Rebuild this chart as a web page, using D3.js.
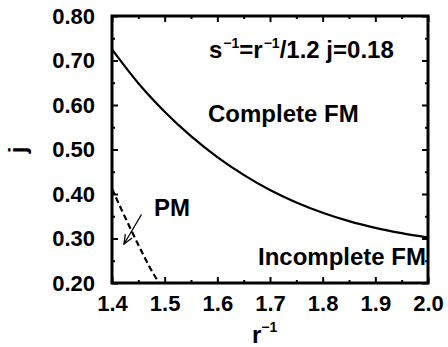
<!DOCTYPE html>
<html>
<head>
<meta charset="utf-8">
<script src="https://cdn.jsdelivr.net/npm/d3@7"></script>
<style>
  html, body { margin: 0; padding: 0; background: #fff; }
  svg { display: block; }
  text { font-family: "Liberation Sans", Arial, Helvetica, sans-serif; font-weight: bold; fill: #000; }
</style>
</head>
<body>
<svg id="chart" width="448" height="347"></svg>
<script>
// r^-1 values and j for the complete-FM boundary (solid curve)
const fmR = [1.40, 1.45, 1.50, 1.55, 1.60, 1.65, 1.70, 1.75, 1.80, 1.85, 1.90, 1.95, 2.00];
const fmJ = [0.725, 0.649, 0.585, 0.530, 0.483, 0.443, 0.409, 0.381, 0.358, 0.339, 0.324, 0.312, 0.302];

// PM boundary (dashed curve)
const pmR = [1.40, 1.42, 1.44, 1.46, 1.48, 1.49];
const pmJ = [0.412, 0.360, 0.310, 0.262, 0.218, 0.200];

// axis ticks
const xTicks = [1.4, 1.5, 1.6, 1.7, 1.8, 1.9, 2.0];
const xMinor = [1.45, 1.55, 1.65, 1.75, 1.85, 1.95];
const yTicks = [0.20, 0.30, 0.40, 0.50, 0.60, 0.70, 0.80];
const yMinor = [0.25, 0.35, 0.45, 0.55, 0.65, 0.75];

const svg = d3.select("#chart");
const plotL = 112, plotR = 428, plotT = 16, plotB = 283;

const x = d3.scaleLinear().domain([1.4, 2.0]).range([plotL, plotR]);
const y = d3.scaleLinear().domain([0.2, 0.8]).range([plotB, plotT]);

const tickFont = "22px";

function ticksOnly(g) {
  g.select(".domain").remove();
  g.selectAll("line").attr("stroke-width", 2);
}

// bottom axis with labels
const gx = svg.append("g").attr("transform", `translate(0,${plotB})`)
  .call(d3.axisBottom(x).tickValues(xTicks).tickFormat(d3.format(".1f")).tickSize(-6).tickPadding(12));
ticksOnly(gx);
gx.selectAll("text").style("font-size", tickFont);
svg.append("g").attr("transform", `translate(0,${plotB})`)
  .call(d3.axisBottom(x).tickValues(xMinor).tickFormat("").tickSize(-3)).call(ticksOnly);

// top axis (ticks only)
svg.append("g").attr("transform", `translate(0,${plotT})`)
  .call(d3.axisTop(x).tickValues(xTicks).tickFormat("").tickSize(-6)).call(ticksOnly);
svg.append("g").attr("transform", `translate(0,${plotT})`)
  .call(d3.axisTop(x).tickValues(xMinor).tickFormat("").tickSize(-3)).call(ticksOnly);

// left axis with labels
const gy = svg.append("g").attr("transform", `translate(${plotL},0)`)
  .call(d3.axisLeft(y).tickValues(yTicks).tickFormat(d3.format(".2f")).tickSize(-6).tickPadding(17));
ticksOnly(gy);
gy.selectAll("text").style("font-size", tickFont);
svg.append("g").attr("transform", `translate(${plotL},0)`)
  .call(d3.axisLeft(y).tickValues(yMinor).tickFormat("").tickSize(-3)).call(ticksOnly);

// right axis (ticks only)
svg.append("g").attr("transform", `translate(${plotR},0)`)
  .call(d3.axisRight(y).tickValues(yTicks).tickFormat("").tickSize(-6)).call(ticksOnly);
svg.append("g").attr("transform", `translate(${plotR},0)`)
  .call(d3.axisRight(y).tickValues(yMinor).tickFormat("").tickSize(-3)).call(ticksOnly);

// plot frame
svg.append("rect")
  .attr("x", plotL).attr("y", plotT)
  .attr("width", plotR - plotL).attr("height", plotB - plotT)
  .attr("fill", "none").attr("stroke", "#000").attr("stroke-width", 3);

const line = d3.line().x(d => x(d[0])).y(d => y(d[1])).curve(d3.curveMonotoneX);

svg.append("path")
  .datum(d3.zip(fmR, fmJ))
  .attr("d", line)
  .attr("fill", "none").attr("stroke", "#000").attr("stroke-width", 2.2);

svg.append("path")
  .datum(d3.zip(pmR, pmJ))
  .attr("d", line)
  .attr("fill", "none").attr("stroke", "#000").attr("stroke-width", 2.2)
  .attr("stroke-dasharray", "6,3.5");

// arrow pointing at the PM curve
const ax0 = 141.5, ay0 = 214.5, ax1 = 124, ay1 = 244;
svg.append("line").attr("x1", ax0).attr("y1", ay0).attr("x2", ax1).attr("y2", ay1)
  .attr("stroke", "#000").attr("stroke-width", 1.3);
const ang = Math.atan2(ay1 - ay0, ax1 - ax0);
const headLen = 10, spread = 0.4;
svg.append("path")
  .attr("d", `M${ax1 - headLen * Math.cos(ang - spread)},${ay1 - headLen * Math.sin(ang - spread)}L${ax1},${ay1}L${ax1 - headLen * Math.cos(ang + spread)},${ay1 - headLen * Math.sin(ang + spread)}`)
  .attr("fill", "none").attr("stroke", "#000").attr("stroke-width", 1.3);

// annotations
const annFont = "24px";
const supFont = "14px";
const t = svg.append("text").attr("x", 209).attr("y", 58).style("font-size", annFont);
t.append("tspan").text("s");
t.append("tspan").attr("dx", 1).attr("dy", -10).style("font-size", supFont).text("−1");
t.append("tspan").attr("dy", 10).text("=r");
t.append("tspan").attr("dx", 1).attr("dy", -10).style("font-size", supFont).text("−1");
t.append("tspan").attr("dy", 10).text("/1.2 j=0.18");

svg.append("text").attr("x", 208).attr("y", 122).style("font-size", annFont).text("Complete FM");
svg.append("text").attr("x", 258).attr("y", 265).style("font-size", annFont).text("Incomplete FM");
svg.append("text").attr("x", 154).attr("y", 216).style("font-size", annFont).text("PM");

// axis titles
const xt = svg.append("text").attr("x", 252).attr("y", 343).style("font-size", annFont);
xt.append("tspan").text("r");
xt.append("tspan").attr("dy", -11).style("font-size", supFont).text("−1");

svg.append("g")
  .attr("transform", "translate(26,150) rotate(-90)")
  .append("text")
  .attr("text-anchor", "middle")
  .style("font-size", annFont)
  .text("j");
</script>
</body>
</html>
